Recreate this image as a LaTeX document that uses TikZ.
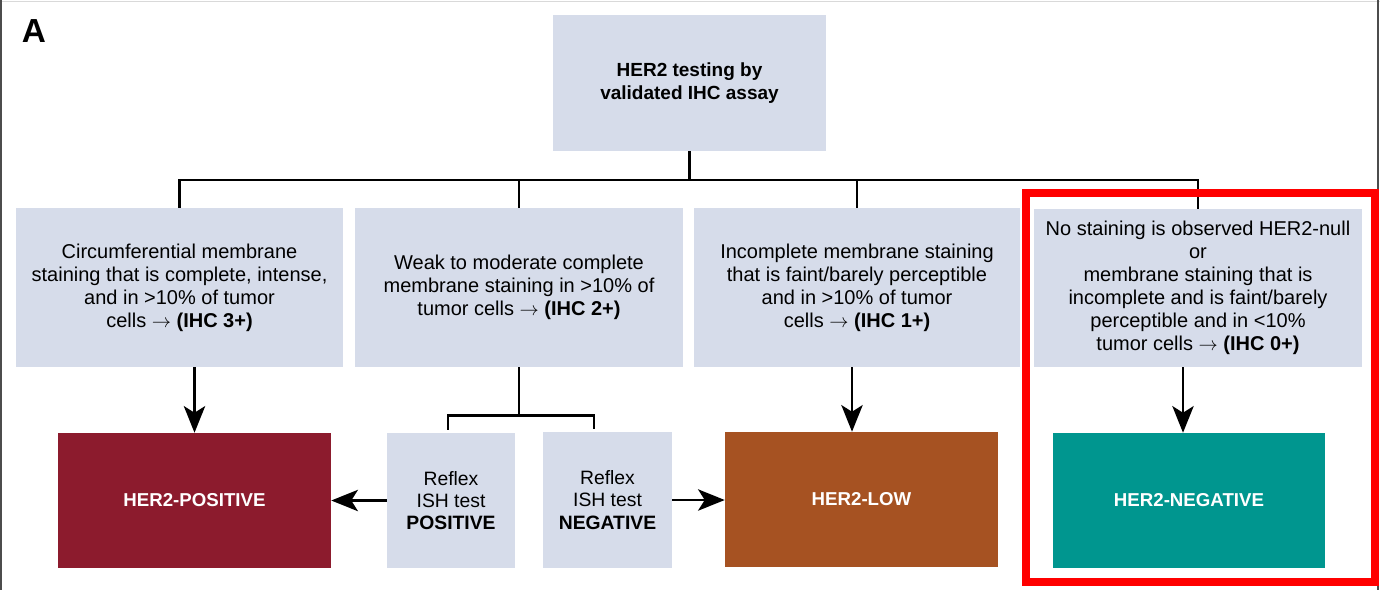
\documentclass[tikz,border=0pt]{standalone}
\usepackage{fontspec}
\setmainfont{Liberation Sans}
\usetikzlibrary{arrows.meta,calc}
\definecolor{boxfill}{RGB}{214,220,234}
\definecolor{posred}{RGB}{140,27,45}
\definecolor{lowbrown}{RGB}{166,82,34}
\definecolor{negteal}{RGB}{0,150,143}
\begin{document}
\begin{tikzpicture}[x=0.75pt,y=-0.75pt,
  lbox/.style={fill=boxfill, draw=none, align=center, inner sep=0pt, font=\fontsize{15}{17.25}\selectfont},
  cbox/.style={draw=none, align=center, inner sep=0pt, text=white, font=\bfseries\fontsize{14}{16}\selectfont},
  conn/.style={line width=1.75pt, black},
  arr/.style={conn, -{Stealth[length=20pt,width=16pt,inset=5pt]}},
]
\useasboundingbox (0,0) rectangle (1380,590);
% frame
\draw[gray!30, line width=0.75pt] (0,1) -- (1380,1);
\draw[gray!60!black, line width=1pt] (1,0) -- (1,590);
\draw[gray!60!black, line width=1pt] (1378,0) -- (1378,590);

\node[font=\bfseries\fontsize{25}{30}\selectfont] (lblA) at (34,31) {A};

\node[lbox, minimum width=204.75pt, minimum height=102pt, font=\bfseries\fontsize{14.25}{17}\selectfont] (top) at (689.5,83) {HER2 testing by\\validated IHC assay};

\node[lbox, minimum width=245.25pt, minimum height=119.25pt] (b1) at (179.5,287.5)
  {Circumferential membrane\\staining that is complete, intense,\\and in >10\% of tumor\\cells $\rightarrow$ \textbf{(IHC 3+)}};
\node[lbox, minimum width=246pt, minimum height=119.25pt] (b2) at (519,287.5)
  {Weak to moderate complete\\membrane staining in >10\% of\\tumor cells $\rightarrow$ \textbf{(IHC 2+)}};
\node[lbox, minimum width=244.5pt, minimum height=119.25pt] (b3) at (857,287.5)
  {Incomplete membrane staining\\that is faint/barely perceptible\\and in >10\% of tumor\\cells $\rightarrow$ \textbf{(IHC 1+)}};
\node[lbox, minimum width=246pt, minimum height=118.5pt] (b4) at (1198,288)
  {No staining is observed HER2-null\\or\\membrane staining that is\\incomplete and is faint/barely\\perceptible and in <10\%\\tumor cells $\rightarrow$ \textbf{(IHC 0+)}};

\node[cbox, fill=posred, minimum width=204.75pt, minimum height=101.25pt] (pos) at (194.5,500.5) {HER2-POSITIVE};
\node[lbox, minimum width=96pt, minimum height=101.25pt, font=\fontsize{14.5}{16.75}\selectfont] (rpos) at (451,500.5) {Reflex\\ISH test\\\textbf{POSITIVE}};
\node[lbox, minimum width=96.75pt, minimum height=102pt, font=\fontsize{14.5}{16.75}\selectfont] (rneg) at (607.5,500) {Reflex\\ISH test\\\textbf{NEGATIVE}};
\node[cbox, fill=lowbrown, minimum width=204.75pt, minimum height=101.25pt] (low) at (861.5,499.5) {HER2-LOW};
\node[cbox, fill=negteal, minimum width=204pt, minimum height=101.25pt] (neg) at (1189,500.5) {HER2-NEGATIVE};

% bus
\coordinate (bus) at (689.5,180);
\draw[conn] (top.south) -- (bus);
\draw[conn] (b1.north) -- (b1.north |- bus) -- (b4.north |- bus) -- (b4.north);
\draw[conn] (b2.north) -- (b2.north |- bus);
\draw[conn] (b3.north) -- (b3.north |- bus);

% IHC 2+ bracket
\coordinate (brL) at (448,415.5);
\coordinate (brR) at (594,415.5);
\coordinate (brLe) at ($(rpos.north -| brL)+(0,-3)$);
\coordinate (brRe) at ($(rneg.north -| brR)+(0,-3)$);
\draw[conn] (b2.south) -- (b2.south |- brL);
\draw[conn] (brLe) -- (brL) -- (brR) -- (brRe);

% arrows
\draw[arr] (b1.south -| pos.north) -- (pos.north);
\coordinate (a3) at ($(low.north)+(-9.5,0)$);
\draw[arr] (a3 |- b3.south) -- (a3);
\coordinate (a4) at ($(neg.north)+(-6,0)$);
\draw[arr] (a4 |- b4.south) -- (a4);
\draw[arr] (rpos.west) -- (rpos.west -| pos.east);
\draw[arr] (rneg.east) -- (rneg.east -| low.west);

% highlight
\draw[red, line width=6pt] (1026,192.5) rectangle (1374.5,582);
\end{tikzpicture}
\end{document}
